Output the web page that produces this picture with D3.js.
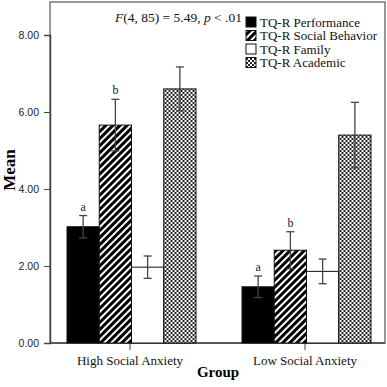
<!DOCTYPE html>
<html><head><meta charset="utf-8">
<script src="https://cdn.jsdelivr.net/npm/d3@7"></script>
<style>body{margin:0;background:#fff}svg{display:block}</style>
</head><body>
<svg id="c" width="387" height="387"></svg>
<script>
const groups = ["High Social Anxiety", "Low Social Anxiety"];
const series = ["TQ-R Performance", "TQ-R Social Behavior", "TQ-R Family", "TQ-R Academic"];
const means = [[3.02, 5.66, 1.97, 6.60], [1.46, 2.41, 1.86, 5.40]];
const errors = [[0.29, 0.67, 0.29, 0.57], [0.28, 0.48, 0.32, 0.85]];
const letters = [["a", "b", "", ""], ["a", "b", "", ""]];
const yTicks = [0, 2, 4, 6, 8];
const annotation = "F(4, 85) = 5.49, p < .01";

(function () {
const serif = "'Liberation Serif', 'Times New Roman', serif";
const svg = d3.select("#c");
const defs = svg.append("defs");
// stripes
const ps = defs.append("pattern").attr("id", "stripe").attr("patternUnits", "userSpaceOnUse")
  .attr("width", 5).attr("height", 5).attr("patternTransform", "rotate(45)");
ps.append("rect").attr("width", 5).attr("height", 5).attr("fill", "#000");
ps.append("rect").attr("width", 2).attr("height", 5).attr("fill", "#fff");
// checker
const pc = defs.append("pattern").attr("id", "check").attr("patternUnits", "userSpaceOnUse")
  .attr("width", 4).attr("height", 4);
pc.append("rect").attr("width", 4).attr("height", 4).attr("fill", "#fff");
pc.append("rect").attr("width", 2).attr("height", 2).attr("fill", "#222");
pc.append("rect").attr("x", 2).attr("y", 2).attr("width", 2).attr("height", 2).attr("fill", "#222");
const fills = ["#000", "url(#stripe)", "#fff", "url(#check)"];

const pLeft = 50, pRight = 385, pTop = 2, pBottom = 343;
const y = d3.scaleLinear().domain([0, 8]).range([pBottom, 35]);
const x0 = d3.scaleBand().domain(groups).range([42.5, 392.5]);
const x1 = d3.scaleBand().domain(series).range([24.5, 153.5]);

// frame
svg.append("rect").attr("x", pLeft).attr("y", pTop).attr("width", pRight - pLeft).attr("height", pBottom - pTop)
  .attr("fill", "none").attr("stroke", "#777").attr("stroke-width", 1.5);

// y axis
const ya = svg.append("g").attr("transform", `translate(${pLeft},0)`)
  .call(d3.axisLeft(y).tickValues(yTicks).tickFormat(d3.format(".2f")).tickSize(6).tickPadding(5));
ya.select(".domain").attr("stroke", "#444").attr("stroke-width", 1.5);
ya.selectAll(".tick line").attr("stroke", "#444");
ya.selectAll("text").attr("font-family", "Arial, 'Liberation Sans', sans-serif").attr("font-size", 10.5).attr("fill", "#222");

// x axis
const xa = svg.append("g").attr("transform", `translate(0,${pBottom})`)
  .call(d3.axisBottom(x0).tickSize(7).tickPadding(6));
xa.attr("font-family", serif);
xa.select(".domain").attr("d", `M${pLeft},0H${pRight}`).attr("stroke", "#444").attr("stroke-width", 1.5);
xa.selectAll(".tick line").attr("stroke", "#444");
xa.selectAll("text").attr("font-family", serif).attr("font-size", 13).attr("fill", "#111");

// bars
groups.forEach((g, gi) => {
  const gg = svg.append("g").attr("transform", `translate(${x0(g)},0)`);
  series.forEach((s, si) => {
    const v = means[gi][si], e = errors[gi][si];
    const bx = x1(s), bw = x1.bandwidth();
    gg.append("rect").attr("x", bx).attr("y", y(v)).attr("width", bw).attr("height", y(0) - y(v))
      .attr("fill", fills[si]).attr("stroke", "#111").attr("stroke-width", 1);
    const cx = bx + bw / 2;
    gg.append("line").attr("x1", cx).attr("x2", cx).attr("y1", y(v + e)).attr("y2", y(v - e))
      .attr("stroke", "#444").attr("stroke-width", 1.3);
    [v + e, v - e].forEach(t => gg.append("line").attr("x1", cx - 4).attr("x2", cx + 4)
      .attr("y1", y(t)).attr("y2", y(t)).attr("stroke", "#444").attr("stroke-width", 1.3));
    if (letters[gi][si]) {
      gg.append("text").attr("x", cx).attr("y", y(v + e) - 5).attr("text-anchor", "middle")
        .attr("font-family", serif).attr("font-size", 12).attr("fill", "#222")
        .text(letters[gi][si]);
    }
  });
});

// axis titles
svg.append("text").attr("transform", "translate(15,170) rotate(-90)").attr("text-anchor", "middle")
  .attr("font-family", serif).attr("font-weight", "bold").attr("font-size", 17).text("Mean");
svg.append("text").attr("x", 218).attr("y", 377).attr("text-anchor", "middle")
  .attr("font-family", serif).attr("font-weight", "bold").attr("font-size", 15).text("Group");

// annotation
const an = svg.append("text").attr("x", 115).attr("y", 22)
  .attr("font-family", serif).attr("font-size", 13.5).attr("fill", "#111");
an.append("tspan").attr("font-style", "italic").text("F");
an.append("tspan").text("(4, 85) = 5.49, ");
an.append("tspan").attr("font-style", "italic").text("p");
an.append("tspan").text(" < .01");

// legend
series.forEach((s, i) => {
  const ly = 17 + i * 13.5;
  svg.append("rect").attr("x", 246).attr("y", ly).attr("width", 10).attr("height", 10)
    .attr("fill", fills[i]).attr("stroke", "#111").attr("stroke-width", 1);
  svg.append("text").attr("x", 260).attr("y", ly + 9.5)
    .attr("font-family", serif).attr("font-size", 13).attr("fill", "#111").text(s);
});
})();
</script>
</body></html>
